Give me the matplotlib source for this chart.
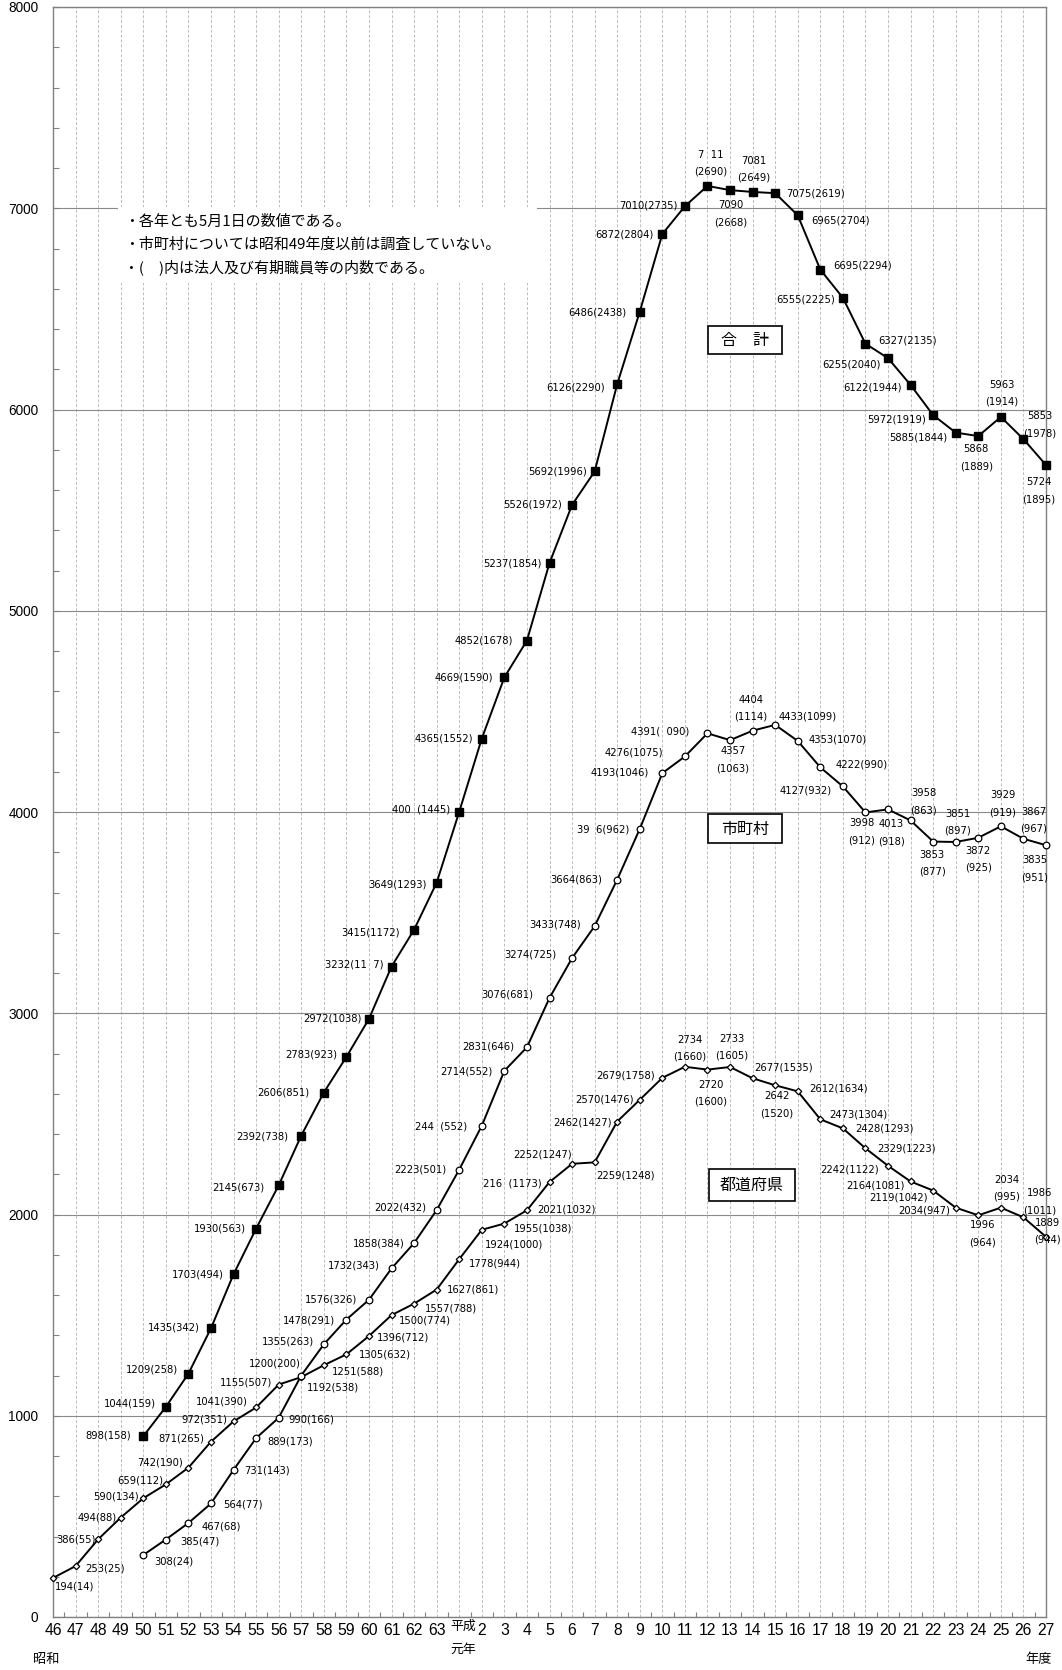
import matplotlib
matplotlib.use('Agg')
import matplotlib.pyplot as plt
from matplotlib import font_manager
from matplotlib.patches import Rectangle
from matplotlib.ticker import MultipleLocator, FixedLocator, NullFormatter

# ---------------- data ----------------
years = ['46', '47', '48', '49', '50', '51', '52', '53', '54', '55', '56', '57', '58', '59',
         '60', '61', '62', '63', '平成元年', '2', '3', '4', '5', '6', '7', '8', '9', '10', '11',
         '12', '13', '14', '15', '16', '17', '18', '19', '20', '21', '22', '23', '24', '25',
         '26', '27']

# 都道府県 (S46 - H27)
pref = [194, 253, 386, 494, 590, 659, 742, 871, 972, 1041, 1155, 1192, 1251, 1305, 1396,
        1500, 1557, 1627, 1778, 1924, 1955, 2021, 2161, 2252, 2259, 2462, 2570, 2679, 2734,
        2720, 2733, 2677, 2642, 2612, 2473, 2428, 2329, 2242, 2164, 2119, 2034, 1996, 2034,
        1986, 1889]
pref_in = [14, 25, 55, 88, 134, 112, 190, 265, 351, 390, 507, 538, 588, 632, 712, 774, 788,
           861, 944, 1000, 1038, 1032, 1173, 1247, 1248, 1427, 1476, 1758, 1660, 1600, 1605,
           1535, 1520, 1634, 1304, 1293, 1223, 1122, 1081, 1042, 947, 964, 995, 1011, 944]

# 市町村 (S50 - H27)
muni_start = 4
muni = [308, 385, 467, 564, 731, 889, 990, 1200, 1355, 1478, 1576, 1732, 1858, 2022, 2223,
        2441, 2714, 2831, 3076, 3274, 3433, 3664, 3916, 4193, 4276, 4391, 4357, 4404, 4433,
        4353, 4222, 4127, 3998, 4013, 3958, 3853, 3851, 3872, 3929, 3867, 3835]
muni_in = [24, 47, 68, 77, 143, 173, 166, 200, 263, 291, 326, 343, 384, 432, 501, 552, 552,
           646, 681, 725, 748, 863, 962, 1046, 1075, 1090, 1063, 1114, 1099, 1070, 990, 932,
           912, 918, 863, 877, 897, 925, 919, 967, 951]

# 合計 (S50 - H27)
total_start = 4
total = [898, 1044, 1209, 1435, 1703, 1930, 2145, 2392, 2606, 2783, 2972, 3232, 3415, 3649,
         4001, 4365, 4669, 4852, 5237, 5526, 5692, 6126, 6486, 6872, 7010, 7111, 7090, 7081,
         7075, 6965, 6695, 6555, 6327, 6255, 6122, 5972, 5885, 5868, 5963, 5853, 5724]
total_in = [158, 159, 258, 342, 494, 563, 673, 738, 851, 923, 1038, 1117, 1172, 1293, 1445,
            1552, 1590, 1678, 1854, 1972, 1996, 2290, 2438, 2804, 2735, 2690, 2668, 2649, 2619,
            2704, 2294, 2225, 2135, 2040, 1944, 1919, 1844, 1889, 1914, 1978, 1895]

notes = ['・各年とも5月1日の数値である。',
         '・市町村については昭和49年度以前は調査していない。',
         '・(\u3000)内は法人及び有期職員等の内数である。']

# label texts as they appear printed in the source (some digits missing there)
FS = '\u2007'
label_override = {
    ('total', 18): ('400' + FS + '(1445)',),
    ('total', 15): ('3232(11' + FS + '7)',),
    ('total', 29): ('7' + FS + '11', '(2690)'),
    ('muni', 19): ('244' + FS + '(552)',),
    ('muni', 26): ('39' + FS + '6(962)',),
    ('muni', 29): ('4391(' + FS + '090)',),
    ('pref', 22): ('216' + FS + '(1173)',),
}

# ---------------- label placement (style) ----------------
# (mode, dx, dy) in pixels; dy positive = downward
pref_pos = [('L', 2, 9), ('L', 10, 2), ('R', -2, 0), ('R', -4, 0), ('R', -4, -2), ('R', -3, -4),
            ('R', -5, -5), ('R', -7, -3), ('R', -6, -2), ('R', -8, -6), ('R', -7, -2),
            ('L', 6, 10), ('L', 8, 6), ('L', 12, 0), ('L', 8, 1), ('L', 7, 5), ('L', 11, 5),
            ('L', 10, 0), ('L', 10, 4), ('L', 3, 15), ('L', 10, 5), ('L', 10, -1), ('R', -8, 1),
            ('R', 0, -9), ('L', 2, 13), ('R', -5, 1), ('R', -6, 0), ('R', -7, -2), ('C', 5, -27),
            ('C', 3, 15), ('C', 2, -28), ('L', 2, -11), ('C', 2, 11), ('L', 11, -3), ('L', 9, -5),
            ('L', 12, 0), ('L', 12, 0), ('R', -9, 4), ('R', -6, 4), ('R', -5, 7), ('R', -6, 3),
            ('C', 4, 10), ('C', 6, -28), ('C', 16, -24), ('C', 1, -14)]
muni_pos = [('L', 11, 6), ('L', 14, 2), ('L', 13, 3), ('L', 12, 1), ('L', 11, 1), ('L', 11, 3),
            ('L', 10, 2), ('R', -1, -12), ('R', -10, -3), ('R', -11, 1), ('R', -12, 0),
            ('R', -12, -3), ('R', -9, 0), ('R', -10, -3), ('R', -13, 0), ('R', -15, 1),
            ('R', -12, 1), ('R', -13, -1), ('R', -16, -3), ('R', -16, -4), ('R', -14, -2),
            ('R', -15, 0), ('R', -11, 1), ('R', -14, -1), ('R', -22, -4), ('R', -18, -2),
            ('C', 3, 11), ('C', -2, -31), ('L', 3, -8), ('L', 11, -1), ('L', 15, -3),
            ('R', -11, 4), ('C', -4, 11), ('C', 3, 15), ('C', 13, -27), ('C', -1, 13),
            ('C', 2, -28), ('C', 0, 13), ('C', 2, -31), ('C', 10, -27), ('C', -11, 15)]
total_pos = [('R', -12, -1), ('R', -10, -3), ('R', -10, -4), ('R', -11, -1), ('R', -10, 0),
             ('R', -10, 0), ('R', -14, 2), ('R', -13, 1), ('R', -14, 0), ('R', -9, -2),
             ('R', -7, 0), ('R', -8, -2), ('R', -14, 3), ('R', -10, 2), ('R', -9, -2),
             ('R', -9, 0), ('R', -11, 0), ('R', -14, 0), ('R', -8, 0), ('R', -10, 0),
             ('R', -8, 0), ('R', -12, 3), ('R', -13, 1), ('R', -9, 0), ('R', -7, -1),
             ('C', 3, -31), ('C', 1, 15), ('C', 1, -31), ('L', 11, 0), ('L', 13, 5),
             ('L', 13, -4), ('R', -8, 2), ('L', 13, -3), ('R', -7, 6), ('R', -9, 3),
             ('R', -7, 4), ('R', -8, 5), ('C', -2, 13), ('C', 1, -32), ('C', 16, -23),
             ('C', -7, 17)]

# ---------------- fonts ----------------
names = {f.name for f in font_manager.fontManager.ttflist}
NARROW = 'Liberation Sans Narrow' if 'Liberation Sans Narrow' in names else 'Liberation Sans'
CJK = ['Noto Sans CJK JP', 'DejaVu Sans']
plt.rcParams['font.family'] = ['DejaVu Sans', 'Noto Sans CJK JP']

W, H = 1062, 1670
fig = plt.figure(figsize=(W / 100, H / 100), dpi=100)
fig.patch.set_facecolor('white')

L, R, T, B = 53, 1046, 7, 1617
ax = fig.add_axes([L / W, 1 - B / H, (R - L) / W, (B - T) / H])
ax.set_xlim(0, len(years) - 1)
ax.set_ylim(0, 8000)
ax.set_axisbelow(True)

# grid
ax.yaxis.set_major_locator(MultipleLocator(1000))
ax.yaxis.set_minor_locator(MultipleLocator(200))
ax.grid(axis='y', which='major', color='#8a8a8a', lw=0.8, ls='-')
ax.set_xticks(range(len(years)))
ax.grid(axis='x', which='major', color='#bcbcbc', lw=0.7, ls=(0, (3, 2)))
ax.xaxis.set_minor_locator(FixedLocator([i + 0.5 for i in range(len(years) - 1)]))
ax.xaxis.set_minor_formatter(NullFormatter())

for s in ax.spines.values():
    s.set_color('#808080')
    s.set_linewidth(1.0)

ax.tick_params(axis='y', which='both', direction='in', length=4, width=0.8, color='#808080',
               pad=10.5, labelsize=9.8)
ax.tick_params(axis='x', which='major', length=0, pad=4.5, labelsize=11.3)
ax.tick_params(axis='x', which='minor', direction='in', length=3.5, width=0.8, color='#808080')
ax.set_yticks(range(0, 8001, 1000))
ax.set_yticklabels([str(v) for v in range(0, 8001, 1000)], family='Liberation Sans')
ax.set_xticklabels(['' if y == '平成元年' else y for y in years], family=NARROW)

# Heisei 1 label split over two lines
h1 = years.index('平成元年')
ax.annotate(years[h1][:2], xy=(h1, 0), xycoords=ax.get_xaxis_transform(), xytext=(4, -9),
            textcoords='offset pixels', ha='center', va='center', fontsize=9.3,
            family=CJK, annotation_clip=False)
ax.annotate(years[h1][2:], xy=(h1, 0), xycoords=ax.get_xaxis_transform(), xytext=(4, -32),
            textcoords='offset pixels', ha='center', va='center', fontsize=9.3,
            family=CJK, annotation_clip=False)
fig.text(46 / W, 1 - 1660 / H, '昭和', ha='center', va='center', fontsize=9.5, family=CJK)
fig.text(1039 / W, 1 - 1660 / H, '年度', ha='center', va='center', fontsize=9.5, family=CJK)

# series
x_pref = list(range(len(pref)))
x_muni = list(range(muni_start, muni_start + len(muni)))
x_total = list(range(total_start, total_start + len(total)))

ax.plot(x_pref, pref, color='black', lw=1.4, marker='D', ms=3.3, mfc='white', mec='black',
        mew=0.9, clip_on=False, zorder=3)
ax.plot(x_muni, muni, color='black', lw=1.4, marker='o', ms=4.8, mfc='white', mec='black',
        mew=0.9, clip_on=False, zorder=3)
ax.plot(x_total, total, color='black', lw=1.4, marker='s', ms=5.6, mfc='black', mec='black',
        clip_on=False, zorder=4)

LFS = 7.2


def put_labels(key, xs, vals, ins, pos):
    for x, v, p, (mode, dx, dy) in zip(xs, vals, ins, pos):
        default = (f'{v}({p})',) if mode != 'C' else (f'{v}', f'({p})')
        txt = label_override.get((key, x), default)
        if mode == 'C' or len(txt) == 2:
            if len(txt) == 1:
                txt = (f'{v}', f'({p})')
            for j, t in enumerate(txt):
                ax.annotate(t, xy=(x, v), xytext=(dx, -(dy + 17 * j)), textcoords='offset pixels',
                            ha='center', va='center', fontsize=LFS, annotation_clip=False,
                            zorder=5)
        else:
            ax.annotate(txt[0], xy=(x, v), xytext=(dx, -dy), textcoords='offset pixels',
                        ha='left' if mode == 'L' else 'right', va='center', fontsize=LFS,
                        annotation_clip=False, zorder=5)


put_labels('pref', x_pref, pref, pref_in, pref_pos)
put_labels('muni', x_muni, muni, muni_in, muni_pos)
put_labels('total', x_total, total, total_in, total_pos)

# notes box
ax.add_patch(Rectangle((118 / W, 1 - 283 / H), (537 - 118) / W, (283 - 207) / H,
                       transform=fig.transFigure, facecolor='white', edgecolor='none',
                       zorder=1))
for j, line in enumerate(notes):
    fig.text(124 / W, 1 - (222 + 22.5 * j) / H, line, ha='left', va='center', fontsize=10.8,
             family=CJK, zorder=6)

# series name boxes
boxes = [('合\u3000計', 708, 782, 326, 354), ('市町村', 708, 782, 814, 843),
         ('都道府県', 709, 795, 1169, 1201)]
for name, x0, x1, y0, y1 in boxes:
    fig.patches.append(Rectangle((x0 / W, 1 - y1 / H), (x1 - x0) / W, (y1 - y0) / H,
                                 transform=fig.transFigure, facecolor='white',
                                 edgecolor='black', lw=1.2, zorder=6))
    fig.text((x0 + x1) / 2 / W, 1 - ((y0 + y1) / 2 + 0.5) / H, name, ha='center', va='center',
             fontsize=11.5, family=CJK, zorder=7)

fig.savefig('out.png', dpi=100, facecolor='white')
